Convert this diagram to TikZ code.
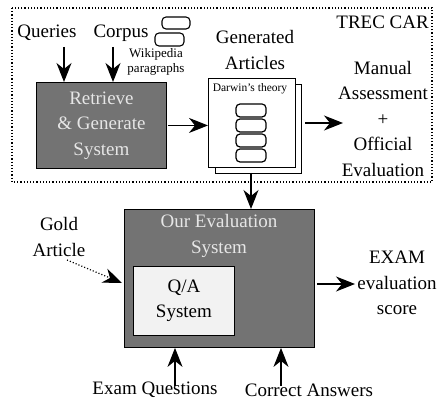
\documentclass[tikz,border=0pt]{standalone}
\usepackage{fontspec}
\setmainfont{Liberation Serif}
\usetikzlibrary{arrows.meta}
\definecolor{boxgray}{HTML}{737373}
\definecolor{textlight}{HTML}{E6E6E6}
\definecolor{qagray}{HTML}{F2F2F2}
\tikzset{
  big/.style={font=\fontsize{19}{25.5}\selectfont, align=center, inner sep=1pt},
  small/.style={font=\fontsize{13}{15}\selectfont, align=center, inner sep=1pt},
  arr/.style={-{Stealth[length=19pt,width=15pt,inset=6pt]}, line width=1.1pt},
  darkbox/.style={draw=black, line width=0.9pt, fill=boxgray},
  para/.style={draw=black, line width=1.1pt, rounded corners=4pt},
  page/.style={draw=black, line width=1.1pt, fill=white},
}
\begin{document}
\begin{tikzpicture}[x=1pt,y=-1pt]
\useasboundingbox (0,0) rectangle (441,403);

% TREC CAR frame
\draw[dotted, line width=1.2pt] (12,8) rectangle (432,182);
\node[big, anchor=east] (trec) at (430,22) {TREC CAR};

% inputs
\node[big] (queries) at (47,33) {Queries};
\node[big] (corpus) at (121,33) {Corpus};
\draw[para] (162,17) rectangle (190,29);
\draw[para, fill=white] (155,33) rectangle (184,46);
\node[small] (wiki) at (156,62) {Wikipedia\\paragraphs};

% retrieve & generate
\node[darkbox, minimum width=130pt, minimum height=86pt, anchor=north west,
      big, text=textlight] (rg) at (36,82) {Retrieve\\\& Generate\\System};
\coordinate (qin) at (64,47);
\coordinate (cin) at (113,47);
\draw[arr] (qin) -- (qin |- rg.north);
\draw[arr] (cin) -- (cin |- rg.north);

% generated articles
\node[big] (gen) at (255,50) {Generated\\Articles};
\node[page, minimum width=86pt, minimum height=89pt, anchor=north west] (back) at (215,84) {};
\node[page, minimum width=87pt, minimum height=89pt, anchor=north west] (art) at (208,78) {};
\node[small, font=\fontsize{11.5}{13}\selectfont] (darwin) at (250,89) {Darwin's theory};
\foreach \y in {104,119,134,149}
  \draw[para, line width=1.2pt] (236,\y) rectangle (266,\y+13);

\draw[arr] (rg.east) ++(1,0) coordinate (rgout) -- (art.west |- rgout);

% official evaluation
\node[big] (manual) at (383,119) {Manual\\Assessment\\+\\Official\\Evaluation};
\coordinate (artout) at (305,123);
\coordinate (manin) at (343,123);
\draw[arr] (artout) -- (manin);

% our evaluation system
\node[darkbox, minimum width=190pt, minimum height=138pt, anchor=north west] (eval) at (124,209) {};
\node[big, text=textlight] (evaltxt) at (219,236) {Our Evaluation\\System};
\node[draw=black, line width=0.9pt, fill=qagray, minimum width=101pt, minimum height=69pt,
      anchor=north west, big] (qa) at (133,266) {Q/A\\System};

\coordinate (artdown) at (251,173);
\draw[arr] (artdown) -- (artdown |- eval.north);

% gold article
\node[big] (gold) at (59,237) {Gold\\Article};
\coordinate (goldout) at (67,260);
\coordinate (goldin) at (122,283);
\draw[arr, dotted, line width=1.2pt] (goldout) -- (goldin);

% output score
\node[big] (score) at (397,283) {EXAM\\evaluation\\score};
\coordinate (evout) at (317,284);
\coordinate (scin) at (355,284);
\draw[arr] (evout) -- (scin);

% bottom inputs
\node[big] (exq) at (155,390) {Exam Questions};
\node[big] (ans) at (309,390) {Correct Answers};
\coordinate (exqup) at (175,386);
\coordinate (ansup) at (281,386);
\draw[arr] (exqup) -- (exqup |- eval.south);
\draw[arr] (ansup) -- (ansup |- eval.south);
\end{tikzpicture}
\end{document}
